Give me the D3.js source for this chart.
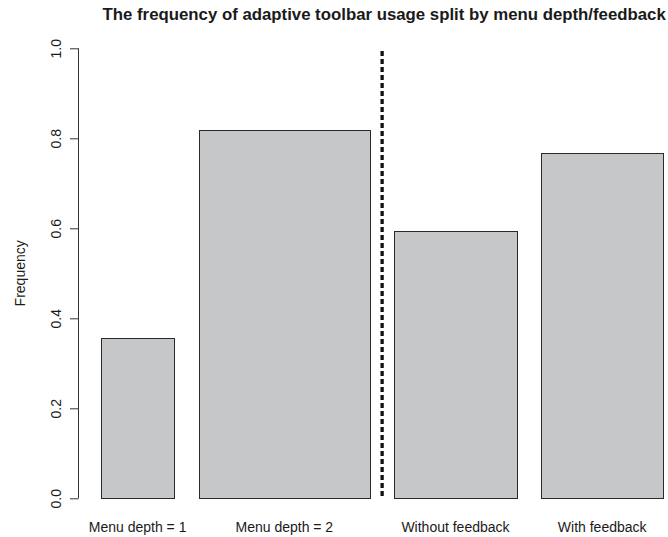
<!DOCTYPE html>
<html>
<head>
<meta charset="utf-8">
<script src="https://cdn.jsdelivr.net/npm/d3@7"></script>
<style>
  html, body { margin: 0; padding: 0; background: #ffffff; }
  svg { display: block; }
  text { font-family: "Liberation Sans", Arial, Helvetica, sans-serif; fill: #1a1a1a; }
</style>
</head>
<body>
<svg id="chart" width="668" height="537"></svg>
<script>
// ---- data ----
const categories = ["Menu depth = 1", "Menu depth = 2", "Without feedback", "With feedback"];
const frequencies = [0.357, 0.819, 0.593, 0.768];
const relativeWidths = [0.6, 1.4, 1, 1];
const yTickValues = [0, 0.2, 0.4, 0.6, 0.8, 1.0];
const yTickLabels = ["0.0", "0.2", "0.4", "0.6", "0.8", "1.0"];
const titleText = "The frequency of adaptive toolbar usage split by menu depth/feedback";
const yAxisTitle = "Frequency";
const dividerAfterIndex = 1;

// ---- layout ----
const W = 668, H = 537;
const space = 0.2;
const svg = d3.select("#chart");

// bar layout in width units (R barplot style)
const bars = [];
let cursor = 0;
categories.forEach((c, i) => {
  cursor += space;
  bars.push({ cat: c, value: frequencies[i], x0: cursor, x1: cursor + relativeWidths[i] });
  cursor += relativeWidths[i];
});
const totalUnits = cursor;

const x = d3.scaleLinear().domain([0, totalUnits]).range([76.5, 663.3]);
const y = d3.scaleLinear().domain([0, 1]).range([498.3, 48.3]);

// bars
svg.append("g").selectAll("rect").data(bars).join("rect")
  .attr("x", d => Math.round(x(d.x0)) + 0.5)
  .attr("y", d => Math.round(y(d.value)) + 0.5)
  .attr("width", d => Math.round(x(d.x1)) - Math.round(x(d.x0)))
  .attr("height", d => Math.round(y(0)) - Math.round(y(d.value)))
  .attr("fill", "#c6c7c9")
  .attr("stroke", "#2a2a2a")
  .attr("stroke-width", 1);

// divider dashed line
const divX = (bars[dividerAfterIndex].x1 + bars[dividerAfterIndex + 1].x0) / 2;
svg.append("line")
  .attr("x1", x(divX)).attr("x2", x(divX))
  .attr("y1", y(0.994)).attr("y2", y(0.003))
  .attr("stroke", "#111")
  .attr("stroke-width", 3.3)
  .attr("stroke-dasharray", "5,3");

// y axis
const axisX = x(0.016);
const yAxis = d3.axisLeft(y).tickValues(yTickValues).tickFormat((d, i) => yTickLabels[i]).tickSize(8.5).tickPadding(0);
const gy = svg.append("g").attr("transform", `translate(${Math.round(axisX) + 0.5},0)`).call(yAxis);
gy.select(".domain").attr("stroke", "#333").attr("d", `M-8.5,${y(0)}H0V${y(1)}H-8.5`).attr("d", `M0,${y(0)}V${y(1)}`);
gy.selectAll(".tick line").attr("stroke", "#333");
gy.selectAll(".tick text")
  .attr("font-size", 14)
  .attr("fill", "#1a1a1a")
  .attr("text-anchor", "middle")
  .attr("dy", null)
  .attr("x", null)
  .attr("transform", "translate(-17.5,0) rotate(-90)")
  .attr("y", 0)
  .attr("dominant-baseline", "auto");

// x labels
svg.append("g").selectAll("text").data(bars).join("text")
  .attr("x", d => x((d.x0 + d.x1) / 2))
  .attr("y", 531.5)
  .attr("text-anchor", "middle")
  .attr("font-size", 14)
  .text(d => d.cat);

// y title
svg.append("text")
  .attr("transform", `translate(24.5,${(y(0) + y(1)) / 2}) rotate(-90)`)
  .attr("text-anchor", "middle")
  .attr("font-size", 14)
  .text(yAxisTitle);

// chart title
svg.append("text")
  .attr("x", x(2.5) + 2)
  .attr("y", 19.5)
  .attr("text-anchor", "middle")
  .attr("font-size", 16.8)
  .attr("font-weight", "bold")
  .text(titleText);
</script>
</body>
</html>
